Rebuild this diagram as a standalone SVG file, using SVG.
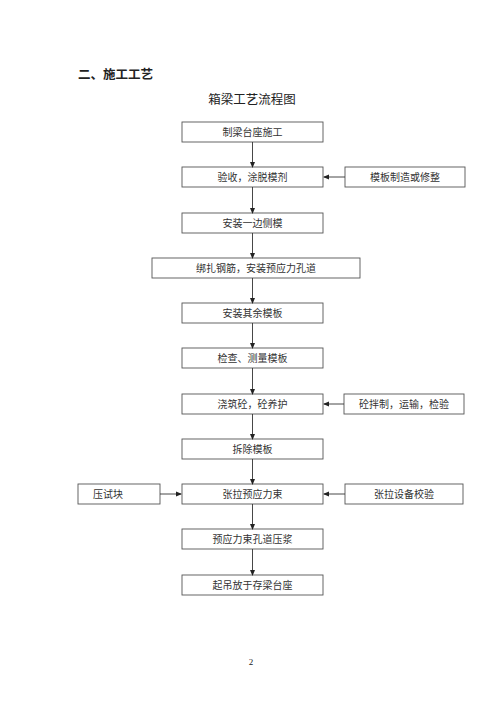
<svg xmlns="http://www.w3.org/2000/svg" width="500" height="707" viewBox="0 0 500 707">
<defs>
<marker id="ah" markerWidth="6" markerHeight="6" refX="5" refY="3" orient="auto" markerUnits="userSpaceOnUse">
<path d="M0,0.5 L6,3 L0,5.5 Z" fill="#222"/>
</marker>
<style>
.b{fill:#fff;stroke:#555;stroke-width:0.9}
.t{font-family:"Liberation Serif","Noto Sans CJK SC",serif;font-size:10px;fill:#333;text-anchor:middle;dominant-baseline:central}
.c{stroke:#333;stroke-width:0.9;fill:none;marker-end:url(#ah)}
</style>
</defs>
<rect width="500" height="707" fill="#fff"/>
<text x="78" y="75" font-family="Liberation Serif,'Noto Sans CJK SC',serif" font-size="12.5" font-weight="bold" fill="#222" dominant-baseline="central">二、施工工艺</text>
<text x="252" y="100" class="t" style="font-size:12.5px;fill:#222">箱梁工艺流程图</text>
<g id="n1"><rect class="b" x="182" y="122" width="141" height="20"/><text class="t" x="252.5" y="132">制梁台座施工</text></g>
<g id="n2"><rect class="b" x="182" y="167" width="141" height="20"/><text class="t" x="252.5" y="177">验收，涂脱模剂</text></g>
<g id="n2r"><rect class="b" x="345" y="167" width="120" height="20"/><text class="t" x="405" y="177">模板制造或修整</text></g>
<g id="n3"><rect class="b" x="182" y="213" width="141" height="20"/><text class="t" x="252.5" y="223">安装一边侧模</text></g>
<g id="n4"><rect class="b" x="152" y="258" width="208" height="20"/><text class="t" x="256" y="268">绑扎钢筋，安装预应力孔道</text></g>
<g id="n5"><rect class="b" x="182" y="303" width="141" height="20"/><text class="t" x="252.5" y="313">安装其余模板</text></g>
<g id="n6"><rect class="b" x="182" y="348" width="141" height="20"/><text class="t" x="252.5" y="358">检查、测量模板</text></g>
<g id="n7"><rect class="b" x="182" y="394" width="141" height="20"/><text class="t" x="252.5" y="404">浇筑砼，砼养护</text></g>
<g id="n7r"><rect class="b" x="344" y="394" width="120" height="20"/><text class="t" x="404" y="404">砼拌制，运输，检验</text></g>
<g id="n8"><rect class="b" x="182" y="439" width="141" height="20"/><text class="t" x="252.5" y="449">拆除模板</text></g>
<g id="n9"><rect class="b" x="182" y="484" width="141" height="20"/><text class="t" x="252.5" y="494">张拉预应力束</text></g>
<g id="n9l"><rect class="b" x="78" y="484" width="82" height="20"/><text class="t" x="108" y="494">压试块</text></g>
<g id="n9r"><rect class="b" x="345" y="484" width="118" height="20"/><text class="t" x="404" y="494">张拉设备校验</text></g>
<g id="n10"><rect class="b" x="182" y="529" width="141" height="20"/><text class="t" x="252.5" y="539">预应力束孔道压浆</text></g>
<g id="n11"><rect class="b" x="182" y="575" width="141" height="20"/><text class="t" x="252.5" y="585">起吊放于存梁台座</text></g>
<g id="connectors">
<line class="c" x1="252.5" y1="142" x2="252.5" y2="167"/>
<line class="c" x1="252.5" y1="187" x2="252.5" y2="213"/>
<line class="c" x1="252.5" y1="233" x2="252.5" y2="258"/>
<line class="c" x1="252.5" y1="278" x2="252.5" y2="303"/>
<line class="c" x1="252.5" y1="323" x2="252.5" y2="348"/>
<line class="c" x1="252.5" y1="368" x2="252.5" y2="394"/>
<line class="c" x1="252.5" y1="414" x2="252.5" y2="439"/>
<line class="c" x1="252.5" y1="459" x2="252.5" y2="484"/>
<line class="c" x1="252.5" y1="504" x2="252.5" y2="529"/>
<line class="c" x1="252.5" y1="549" x2="252.5" y2="575"/>
<line class="c" x1="345" y1="177" x2="324" y2="177"/>
<line class="c" x1="344" y1="404" x2="324" y2="404"/>
<line class="c" x1="345" y1="494" x2="324" y2="494"/>
<line class="c" x1="160" y1="494" x2="181" y2="494"/>
</g>
<text x="251" y="662" class="t" style="font-size:9px;fill:#222">2</text>
</svg>
